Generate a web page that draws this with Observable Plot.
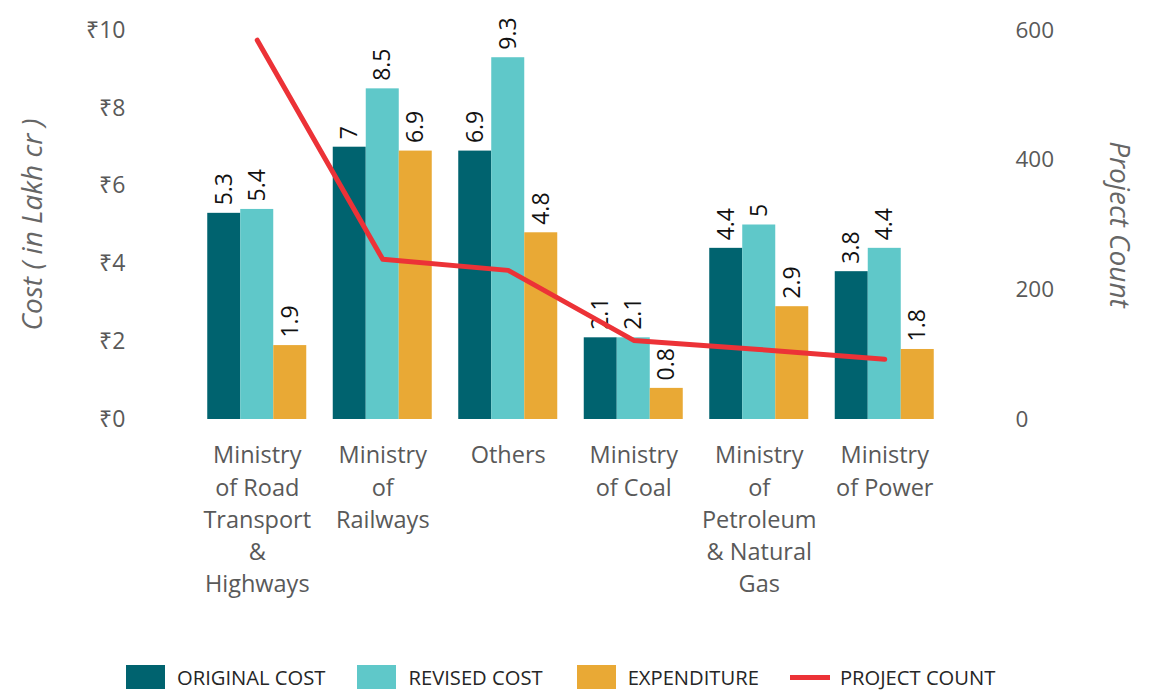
<!DOCTYPE html>
<html><head><meta charset="utf-8">
<script src="https://cdn.jsdelivr.net/npm/d3@7"></script>
<script src="https://cdn.jsdelivr.net/npm/@observablehq/plot@0.6"></script>
<style>
body{margin:0;background:#fff;font-family:"Open Sans",sans-serif;}
#wrap{position:relative;width:1156px;height:694px;overflow:hidden;}
#legend{position:absolute;left:126px;top:665px;display:flex;align-items:center;font-size:20.2px;color:#262626;font-family:"Open Sans",sans-serif;line-height:24px;}
.item{display:flex;align-items:center;}
.sw{width:39px;height:24px;margin-right:12px;}
.ln{width:40px;height:5px;margin-right:10px;}
</style></head><body><div id="wrap"></div>
<script>
const categories = ["Road","Railways","Others","Coal","Petroleum","Power"];
const categoryLabels = ["Ministry\nof Road\nTransport\n&\nHighways","Ministry\nof\nRailways","Others","Ministry\nof Coal","Ministry\nof\nPetroleum\n& Natural\nGas","Ministry\nof Power"];
const seriesNames = ["ORIGINAL COST","REVISED COST","EXPENDITURE"];
const originalCost = [5.3,7,6.9,2.1,4.4,3.8];
const revisedCost = [5.4,8.5,9.3,2.1,5,4.4];
const expenditure = [1.9,6.9,4.8,0.8,2.9,1.8];
const projectCount = [585,247,230,122,108,93];
const costTicks = [0,2,4,6,8,10];
const countTicks = [0,200,400,600];
const countMax = 600;
const costMax = 10;
const colors = ["#00636F","#5FC8C9","#E9A935"];
const lineColor = "#EC3237";
const lineName = "PROJECT COUNT";

const series = [originalCost, revisedCost, expenditure];
const W = 1156, H = 650, mL = 194, mR = 209, mT = 30, mB = 231;
const step = (W - mL - mR) / categories.length;
const barW = 33;
const pin = 1 - barW / step;
const labelOf = new Map(categories.map((c,i)=>[c, categoryLabels[i]]));

const marks = [];
series.forEach((vals, s) => {
  const rows = categories.map((c,i)=>({c, v: vals[i]}));
  marks.push(Plot.barY(rows, {x:"c", y:"v", fill: colors[s], dx: (s-1)*barW}));
  marks.push(Plot.text(rows, {x:"c", y:"v", text: d=>String(d.v), rotate:-90, textAnchor:"start", lineAnchor:"middle", dx:(s-1)*barW, dy:-8, fontSize:23, fill:"#111"}));
});
const lineRows = categories.map((c,i)=>({c, n: projectCount[i]}));
marks.push(Plot.lineY(lineRows, {x:"c", y: d=>d.n*costMax/countMax, stroke: lineColor, strokeWidth:5, strokeLinejoin:"round"}));
marks.push(Plot.axisY(costTicks, {anchor:"left", tickSize:0, tickPadding:69, tickFormat: d=>"₹"+d, fontSize:23, label:null}));
marks.push(Plot.axisY(countTicks.map(d=>d*costMax/countMax), {anchor:"right", tickSize:0, tickPadding:68, tickFormat: d=>String(Math.round(d*countMax/costMax)), fontSize:22.5, label:null}));
marks.push(Plot.axisX({tickSize:0, tickPadding:21, tickFormat: d=>labelOf.get(d), fontSize:23.5, lineHeight:1.37, lineAnchor:"top", label:null}));

const svg = Plot.plot({
  width: W, height: H, marginLeft: mL, marginRight: mR, marginTop: mT, marginBottom: mB,
  style: {fontFamily:"'Open Sans', sans-serif", color:"#595959", background:"#fff"},
  x: {domain: categories, paddingInner: pin, paddingOuter: pin/2, round: false, axis: null},
  y: {domain:[0,costMax], axis: null},
  marks
});
const wrap = document.getElementById("wrap");
wrap.appendChild(svg);
const sel = d3.select(svg);
const cy = (mT + (H - mB)) / 2;
sel.append("text").attr("transform",`translate(35,${cy}) rotate(-90)`).attr("text-anchor","middle").attr("dominant-baseline","middle")
  .attr("font-style","italic").attr("font-size",28).attr("fill","#666").attr("font-family","'Open Sans', sans-serif").text("Cost ( in Lakh cr )");
sel.append("text").attr("transform",`translate(1117,${cy}) rotate(90)`).attr("text-anchor","middle").attr("dominant-baseline","middle")
  .attr("font-style","italic").attr("font-size",28).attr("fill","#666").attr("font-family","'Open Sans', sans-serif").text("Project Count");

const legend = document.createElement("div");
legend.id = "legend";
const gaps = [32, 34, 31, 0];
seriesNames.forEach((n,i)=>{
  const it = document.createElement("div"); it.className="item"; it.style.marginRight = gaps[i]+"px";
  it.innerHTML = `<div class="sw" style="background:${colors[i]}"></div><span>${n}</span>`;
  legend.appendChild(it);
});
const it = document.createElement("div"); it.className="item";
it.innerHTML = `<div class="ln" style="background:${lineColor}"></div><span>${lineName}</span>`;
legend.appendChild(it);
wrap.appendChild(legend);
</script></body></html>
